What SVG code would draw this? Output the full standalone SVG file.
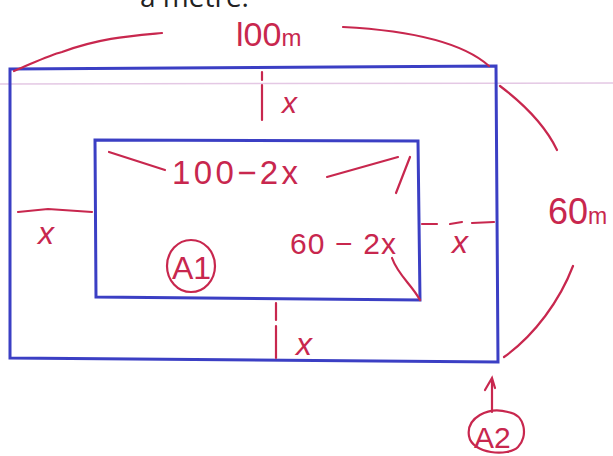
<svg xmlns="http://www.w3.org/2000/svg" width="613" height="456" viewBox="0 0 613 456">
<style>
.b{fill:none;stroke:#3b3fc4;stroke-width:3;stroke-linecap:round}
.r{fill:none;stroke:#c8274e;stroke-width:2.2;stroke-linecap:round}
.t{fill:#c8274e;font-family:"Liberation Sans",sans-serif}
.k{fill:#222;font-family:"Open Sans",sans-serif;font-size:28px}
</style>
<rect width="613" height="456" fill="#fff"/>
<line x1="0" y1="84" x2="613" y2="83" stroke="#e4c8e4" stroke-width="1.5"/>
<text class="k" x="140" y="7">a metre.</text>
<g id="outer"><path class="b" d="M10,69 L496,66 L498,362 L10,358 Z"/></g>
<g id="inner"><path class="b" d="M95,140 L418,141 L420,300 L96,297 Z"/></g>
<g id="labels">
<path class="r" d="M14,71 C40,60 50,55 62,52 C100,38 130,36 162,33"/>
<path class="r" d="M343,27 C400,30 460,40 489,66"/>
<text class="t" x="236" y="46" font-size="34">l00<tspan font-size="24">m</tspan></text>
<path class="r" d="M262,72 L262,80 M262,85 L262,120"/>
<text class="t" x="282" y="113" font-size="30" font-style="italic">x</text>
<path class="r" d="M109,152 L165,170"/>
<text class="t" x="172" y="184" font-size="33" textLength="126" lengthAdjust="spacing">100−2x</text>
<path class="r" d="M327,177 L398,157"/>
<path class="r" d="M410,157 L396,193"/>
<text class="t" x="290" y="254" font-size="30" textLength="106" lengthAdjust="spacing">60 − 2x</text>
<path class="r" d="M392,258 C398,275 412,285 420,300"/>
<path class="r" d="M18,212 L48,209 L92,212"/>
<text class="t" x="38" y="244" font-size="32" font-style="italic">x</text>
<path class="r" d="M422,224 L437,224 M450,224 L462,222 M472,223 L494,222"/>
<text class="t" x="452" y="253" font-size="32" font-style="italic">x</text>
<path class="r" d="M500,86 C525,105 545,125 557,150"/>
<text class="t" x="548" y="224" font-size="36">60<tspan font-size="23">m</tspan></text>
<path class="r" d="M573,266 C560,300 535,335 504,357"/>
<ellipse class="r" cx="191" cy="266" rx="24" ry="26"/>
<text class="t" x="172" y="279" font-size="32">A1</text>
<path class="r" d="M276,303 L276,320 M276,326 L276,358"/>
<text class="t" x="296" y="355" font-size="32" font-style="italic">x</text>
<path class="r" d="M492,412 L492,378 M485,390 L492,378 L495,388"/>
<path class="r" d="M508,412 C488,406 466,418 469,436 C472,454 508,457 518,447 C528,437 526,415 508,412"/>
<text class="t" x="474" y="448" font-size="30">A2</text>
</g>
</svg>
